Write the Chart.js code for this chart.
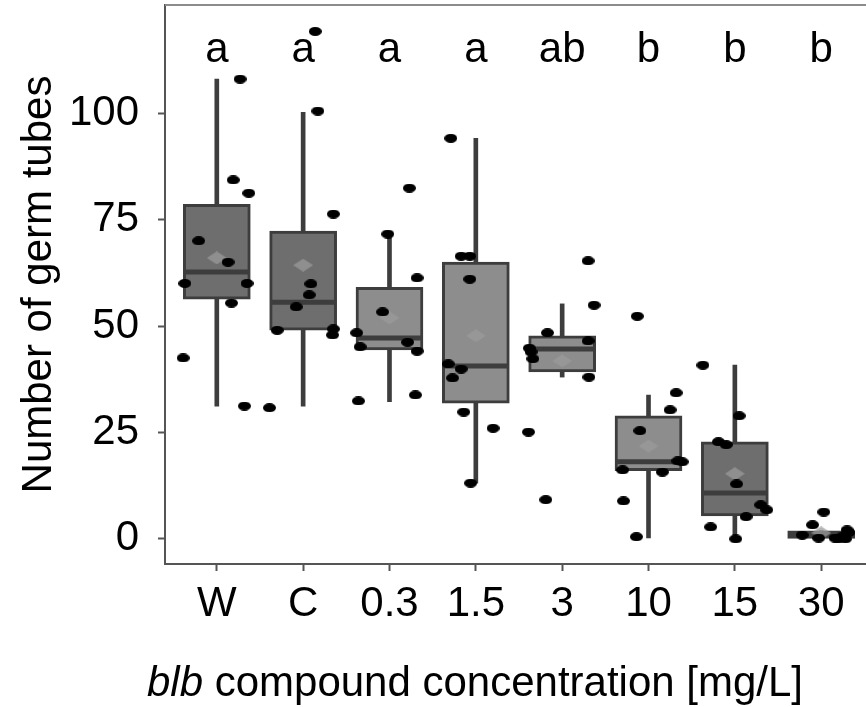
<!DOCTYPE html>
<html>
<head>
<meta charset="utf-8">
<script src="https://cdn.jsdelivr.net/npm/chart.js@4.4.1/dist/chart.umd.min.js"></script>
<style>
  body { margin: 0; overflow: hidden; background: #fff; }
  canvas { display: block; }
</style>
</head>
<body>
<canvas id="myChart" width="880" height="707"></canvas>
<script>
// categories and group letters
var categories = ["W", "C", "0.3", "1.5", "3", "10", "15", "30"];
var letters = ["a", "a", "a", "a", "ab", "b", "b", "b"];
var yTicks = [0, 25, 50, 75, 100];

// box stats
var whiskerLow = [31.2, 31.2, 32.2, 13.1, 38.0, 0.2, 0.0, 0.0];
var q1 = [56.3, 49.0, 44.4, 31.9, 39.2, 16.0, 5.4, 0.0];
var medians = [62.7, 55.6, 47.2, 40.6, 44.6, 18.1, 10.8, 0.8];
var q3 = [78.6, 72.3, 59.1, 65.0, 47.7, 28.9, 22.8, 1.9];
var whiskerHigh = [108.0, 100.2, 71.6, 94.1, 55.2, 33.8, 40.8, 1.9];
var means = [66.0, 64.3, 51.9, 47.7, 41.8, 21.8, 15.3, 1.4];

// single observations, one list per group
var pointValues = [
    [108, 84.3, 81.2, 70, 65, 60, 60, 55.4, 42.5, 31.2],
    [119.2, 100.5, 76.3, 59.9, 57.3, 54.5, 49, 49.3, 47.9, 30.8],
    [82.4, 71.6, 61.3, 53.3, 48.4, 45.1, 46.2, 44.1, 33.8, 32.4],
    [94.1, 66.4, 66.4, 61, 41.1, 39.9, 37.8, 29.8, 26, 13.1],
    [65.3, 54.9, 48.4, 46.5, 44.8, 43.9, 42.3, 38, 25.1, 9.2],
    [52.3, 34.3, 30.3, 25.4, 18.3, 18.1, 16.2, 15.7, 8.9, 0.5],
    [40.8, 28.9, 22.8, 22.1, 12.9, 8, 6.8, 5.2, 2.8, 0],
    [6.3, 3.3, 0.9, 2.1, 0.5, 0.2, 0, 1.5, 0.2, 0]
];
// horizontal jitter of each observation (in category units)
var pointJitter = [
    [0.27, 0.19, 0.37, -0.21, 0.13, -0.37, 0.35, 0.17, -0.39, 0.32],
    [0.14, 0.17, 0.35, 0.09, 0.07, -0.08, -0.30, 0.35, 0.34, -0.39],
    [0.23, -0.02, 0.32, -0.08, -0.38, -0.34, 0.21, 0.32, 0.30, -0.36],
    [-0.29, -0.17, -0.07, -0.07, -0.32, -0.17, -0.27, -0.14, 0.20, -0.06],
    [0.30, 0.37, -0.17, 0.30, -0.38, -0.36, -0.34, 0.31, -0.39, -0.19],
    [-0.13, 0.32, 0.25, -0.10, 0.34, 0.39, -0.30, 0.16, -0.29, -0.14],
    [-0.37, 0.05, -0.19, -0.10, 0.02, 0.30, 0.37, 0.13, -0.28, 0.01],
    [0.03, -0.10, -0.22, 0.30, 0.24, 0.16, 0.28, 0.32, -0.03, 0.20]
];

var boxColors = ["#6e6e6e", "#6e6e6e", "#8d8d8d", "#8d8d8d", "#8d8d8d", "#8d8d8d", "#6e6e6e", "#5a5a5a"];
var lineColor = "#3d3d3d";
var fontName = "'Liberation Sans', Arial, sans-serif";

// small images for the dots and the mean diamonds
function ellipseImage(w, h, color) {
    var c = document.createElement("canvas");
    c.width = w; c.height = h;
    var g = c.getContext("2d");
    g.fillStyle = color;
    g.beginPath();
    g.ellipse(w / 2, h / 2, w / 2, h / 2, 0, 0, Math.PI * 2);
    g.fill();
    return c;
}
function diamondImage(w, h, color) {
    var c = document.createElement("canvas");
    c.width = w; c.height = h;
    var g = c.getContext("2d");
    g.fillStyle = color;
    g.beginPath();
    g.moveTo(w / 2, 0); g.lineTo(w, h / 2); g.lineTo(w / 2, h); g.lineTo(0, h / 2);
    g.closePath();
    g.fill();
    return c;
}

var dots = [];
for (let i = 0; i < pointValues.length; i++) {
    for (let k = 0; k < pointValues[i].length; k++) {
        dots.push({ x: i + pointJitter[i][k], y: pointValues[i][k] });
    }
}

var lettersPlugin = {
    id: "letters",
    afterDatasetsDraw: function (chart) {
        var c = chart.ctx, xs = chart.scales.x, ys = chart.scales.y;
        c.save();
        c.font = "42px " + fontName;
        c.fillStyle = "#000";
        c.textAlign = "center";
        c.textBaseline = "alphabetic";
        for (let i = 0; i < letters.length; i++) {
            c.fillText(letters[i], xs.getPixelForValue(i), ys.getPixelForValue(112));
        }
        c.restore();
    },
    afterDraw: function (chart) {
        var c = chart.ctx, a = chart.chartArea;
        c.save();
        // top frame line
        c.strokeStyle = "#8c8c8c";
        c.lineWidth = 2;
        c.beginPath();
        c.moveTo(a.left, a.top);
        c.lineTo(a.right, a.top);
        c.stroke();
        // x title with the italic part
        var first = "blb", rest = " compound concentration [mg/L]";
        c.fillStyle = "#000";
        c.textBaseline = "alphabetic";
        c.font = "italic 42px " + fontName;
        var w1 = c.measureText(first).width;
        c.font = "42px " + fontName;
        var w2 = c.measureText(rest).width;
        var x0 = 475 - (w1 + w2) / 2;
        c.textAlign = "left";
        c.font = "italic 42px " + fontName;
        c.fillText(first, x0, 696);
        c.font = "42px " + fontName;
        c.fillText(rest, x0 + w1, 696);
        c.restore();
    }
};

var ctx = document.getElementById("myChart").getContext("2d");
var myChart = new Chart(ctx, {
    type: "bar",
    data: {
        datasets: [
            {
                type: "scatter",
                data: dots,
                pointStyle: ellipseImage(13, 9, "#000"),
                order: 1
            },
            {
                type: "scatter",
                data: means.map(function (m, i) { return { x: i, y: m }; }),
                pointStyle: diamondImage(20, 13, "rgba(155,155,155,0.75)"),
                order: 2
            },
            {
                type: "scatter",
                data: medians.map(function (m, i) { return { x: i, y: m }; }),
                pointStyle: "line",
                pointRadius: 32,
                borderColor: lineColor,
                pointBorderWidth: 5,
                order: 3
            },
            {
                type: "bar",
                data: q1.map(function (v, i) { return { x: i, y: [v, q3[i]] }; }),
                backgroundColor: boxColors,
                borderColor: lineColor,
                borderWidth: 3,
                borderSkipped: false,
                barThickness: 67,
                grouped: false,
                order: 4
            },
            {
                type: "bar",
                data: whiskerLow.map(function (v, i) { return { x: i, y: [v, whiskerHigh[i]] }; }),
                backgroundColor: lineColor,
                barThickness: 4,
                grouped: false,
                order: 5
            }
        ]
    },
    options: {
        responsive: false,
        animation: false,
        layout: { autoPadding: false, padding: { left: 0, right: 7, top: 5, bottom: 0 } },
        plugins: {
            legend: { display: false },
            tooltip: { enabled: false }
        },
        scales: {
            x: {
                type: "linear",
                min: -0.6,
                max: 7.6,
                offset: false,
                afterBuildTicks: function (s) {
                    s.ticks = categories.map(function (c, i) { return { value: i }; });
                },
                afterFit: function (s) {
                    s.height = 143;
                    s.paddingLeft = 0;
                    s.paddingRight = 0;
                },
                ticks: {
                    autoSkip: false,
                    maxRotation: 0,
                    padding: 8,
                    color: "#000",
                    font: { family: fontName, size: 42 },
                    callback: function (v) { return categories[v]; }
                },
                grid: { drawOnChartArea: false, offset: false, tickLength: 7, tickColor: "#555", tickWidth: 2 },
                border: { color: "#555", width: 2 }
            },
            y: {
                min: -5.9,
                max: 125.4,
                afterBuildTicks: function (s) {
                    s.ticks = yTicks.map(function (v) { return { value: v }; });
                },
                afterFit: function (s) {
                    s.width = 165;
                    s.paddingTop = 0;
                    s.paddingBottom = 0;
                },
                ticks: {
                    padding: 19,
                    color: "#000",
                    font: { family: fontName, size: 42 }
                },
                grid: { drawOnChartArea: false, tickLength: 7, tickColor: "#555", tickWidth: 2 },
                border: { color: "#555", width: 2 },
                title: {
                    display: true,
                    text: "Number of germ tubes",
                    color: "#000",
                    font: { family: fontName, size: 42 },
                    padding: { top: 14, bottom: 0 }
                }
            }
        }
    },
    plugins: [lettersPlugin]
});
</script>
</body>
</html>
